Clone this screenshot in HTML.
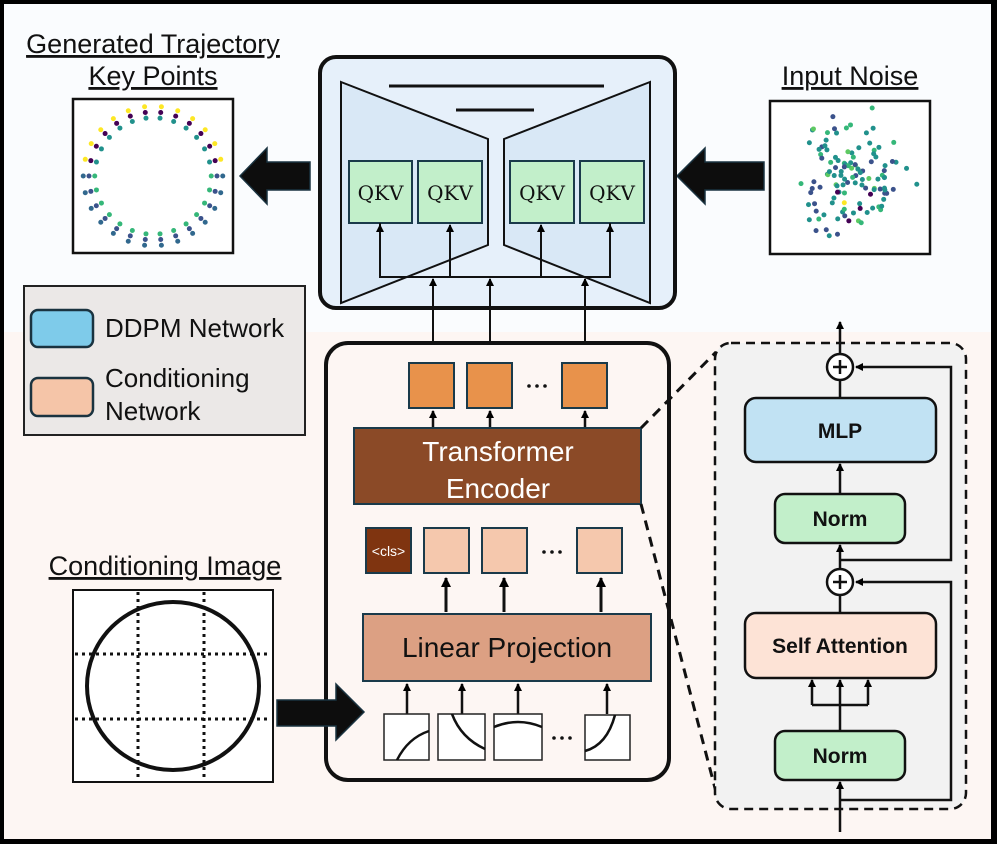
<!DOCTYPE html>
<html><head><meta charset="utf-8"><style>
html,body{margin:0;padding:0;background:#fff}
svg{display:block}
text{font-family:"Liberation Sans",sans-serif}
</style></head><body>
<svg id="s" width="997" height="844" viewBox="0 0 997 844" xmlns="http://www.w3.org/2000/svg">
<defs>
<marker id="ah" markerWidth="8" markerHeight="8" refX="7" refY="4" orient="auto" markerUnits="userSpaceOnUse" viewBox="0 0 8 8"><path d="M0,0 L8,4 L0,8 z" fill="#000"/></marker>
<marker id="ah2" markerWidth="10" markerHeight="10" refX="9" refY="5" orient="auto" markerUnits="userSpaceOnUse" viewBox="0 0 10 10"><path d="M0,0 L10,5 L0,10 z" fill="#000"/></marker>
</defs>
<rect x="0" y="0" width="997" height="844" fill="#000"/>
<rect x="4" y="4" width="987" height="328" fill="#fafcfe"/>
<rect x="4" y="332" width="987" height="507" fill="#fdf6f3"/>

<!-- titles -->
<g font-size="27" fill="#111" text-anchor="middle" text-decoration="underline">
<text x="153" y="53" text-decoration="underline">Generated Trajectory</text>
<text x="153" y="85" text-decoration="underline">Key Points</text>
<text x="850" y="85" text-decoration="underline">Input Noise</text>
<text x="165" y="575" text-decoration="underline">Conditioning Image</text>
</g>

<!-- generated box -->
<rect x="73" y="99" width="160" height="154" fill="#fff" stroke="#111" stroke-width="2.5"/>
<g id="ring"></g>
<!-- noise box -->
<rect x="770" y="101" width="160" height="153" fill="#fff" stroke="#111" stroke-width="2.5"/>
<g id="noise"></g>

<!-- big arrows -->
<path d="M310,162 L267,162 L267,148 L240,176 L267,204 L267,190 L310,190 z" fill="#0d0d0d" stroke="#1a3340" stroke-width="1.5"/>
<path d="M764,162 L705,162 L705,148 L677,176 L705,204 L705,190 L764,190 z" fill="#0d0d0d" stroke="#1a3340" stroke-width="1.5"/>

<!-- UNet -->
<rect x="320" y="57" width="355" height="251" rx="16" fill="#e6f0fa" stroke="#111" stroke-width="4"/>
<path d="M341,82 L488,139 L488,245 L341,303 z" fill="#d9e8f6" stroke="#111" stroke-width="2"/>
<path d="M650,82 L504,139 L504,245 L650,303 z" fill="#d9e8f6" stroke="#111" stroke-width="2"/>
<line x1="389" y1="86" x2="604" y2="86" stroke="#111" stroke-width="3"/>
<line x1="456" y1="110" x2="534" y2="110" stroke="#111" stroke-width="3"/>
<g fill="#c2efca" stroke="#1a3a4a" stroke-width="2">
<rect x="349" y="161" width="63" height="62"/>
<rect x="418" y="161" width="64" height="62"/>
<rect x="510" y="161" width="64" height="62"/>
<rect x="580" y="161" width="64" height="62"/>
</g>
<g font-size="20" fill="#111" text-anchor="middle">
<text x="380.5" y="200" style="font-family:'DejaVu Serif',serif">QKV</text>
<text x="450" y="200" style="font-family:'DejaVu Serif',serif">QKV</text>
<text x="542" y="200" style="font-family:'DejaVu Serif',serif">QKV</text>
<text x="612" y="200" style="font-family:'DejaVu Serif',serif">QKV</text>
</g>
<g stroke="#111" stroke-width="2" fill="none">
<polyline points="380,223 380,277 610,277 610,223"/>
<line x1="450" y1="277" x2="450" y2="225" marker-end="url(#ah)"/>
<line x1="541" y1="277" x2="541" y2="225" marker-end="url(#ah)"/>
<line x1="380" y1="277" x2="380" y2="225" marker-end="url(#ah)"/>
<line x1="610" y1="277" x2="610" y2="225" marker-end="url(#ah)"/>
<line x1="433" y1="363" x2="433" y2="279" marker-end="url(#ah)"/>
<line x1="490" y1="363" x2="490" y2="279" marker-end="url(#ah)"/>
<line x1="585" y1="363" x2="585" y2="279" marker-end="url(#ah)"/>
</g>

<!-- legend -->
<rect x="24" y="286" width="281" height="149" fill="#ebe8e7" stroke="#222" stroke-width="2"/>
<rect x="31" y="310" width="62" height="37" rx="7" fill="#7ecbea" stroke="#1a3340" stroke-width="2.5"/>
<rect x="31" y="378" width="62" height="38" rx="7" fill="#f5c5a8" stroke="#1a3340" stroke-width="2.5"/>
<g font-size="26" fill="#111">
<text x="105" y="337">DDPM Network</text>
<text x="105" y="387">Conditioning</text>
<text x="105" y="420">Network</text>
</g>

<!-- conditioning network -->
<rect x="326" y="343" width="343" height="437" rx="22" fill="#fdf6f3" stroke="#111" stroke-width="4"/>
<path d="M277,700 L336,700 L336,684 L364,712 L336,740 L336,726 L277,726 z" fill="#0d0d0d" stroke="#1a3340" stroke-width="1.5"/>
<g fill="#e8924b" stroke="#1a3a4a" stroke-width="2">
<rect x="409" y="363" width="45" height="45"/>
<rect x="467" y="363" width="45" height="45"/>
<rect x="562" y="363" width="45" height="45"/>
</g>
<g fill="#111">
<circle cx="529" cy="386" r="1.8"/><circle cx="537" cy="386" r="1.8"/><circle cx="545" cy="386" r="1.8"/>
<circle cx="544" cy="552" r="1.8"/><circle cx="552" cy="552" r="1.8"/><circle cx="560" cy="552" r="1.8"/>
<circle cx="554" cy="738" r="1.8"/><circle cx="562" cy="738" r="1.8"/><circle cx="570" cy="738" r="1.8"/>
</g>
<g stroke="#111" stroke-width="2.5">
<line x1="433" y1="428" x2="433" y2="411" marker-end="url(#ah)"/>
<line x1="490" y1="428" x2="490" y2="411" marker-end="url(#ah)"/>
<line x1="585" y1="428" x2="585" y2="411" marker-end="url(#ah)"/>
</g>
<rect x="354" y="428" width="287" height="76" fill="#8b4a27" stroke="#1a3a4a" stroke-width="2"/>
<text x="498" y="461" font-size="28" fill="#fff" text-anchor="middle">Transformer</text>
<text x="498" y="498" font-size="28" fill="#fff" text-anchor="middle">Encoder</text>
<rect x="366" y="528" width="45" height="45" fill="#7f3410" stroke="#1a3a4a" stroke-width="2"/>
<text x="388.5" y="556" font-size="14" fill="#fff" text-anchor="middle">&lt;cls&gt;</text>
<g fill="#f5c8ad" stroke="#1a3a4a" stroke-width="2">
<rect x="424" y="528" width="45" height="45"/>
<rect x="482" y="528" width="45" height="45"/>
<rect x="577" y="528" width="45" height="45"/>
</g>
<g stroke="#111" stroke-width="3">
<line x1="446" y1="612" x2="446" y2="578" marker-end="url(#ah2)"/>
<line x1="504" y1="612" x2="504" y2="578" marker-end="url(#ah2)"/>
<line x1="601" y1="612" x2="601" y2="578" marker-end="url(#ah2)"/>
</g>
<rect x="363" y="614" width="288" height="67" fill="#dca083" stroke="#1a3a4a" stroke-width="2"/>
<text x="507" y="657" font-size="28" fill="#111" text-anchor="middle">Linear Projection</text>
<g stroke="#111" stroke-width="2.5">
<line x1="407" y1="714" x2="407" y2="684" marker-end="url(#ah)"/>
<line x1="462" y1="714" x2="462" y2="684" marker-end="url(#ah)"/>
<line x1="518" y1="714" x2="518" y2="684" marker-end="url(#ah)"/>
<line x1="607" y1="714" x2="607" y2="684" marker-end="url(#ah)"/>
</g>
<g fill="#fff" stroke="#222" stroke-width="1.5">
<rect x="384" y="714" width="45" height="46"/>
<rect x="438" y="714" width="47" height="46"/>
<rect x="494" y="714" width="48" height="46"/>
<rect x="585" y="715" width="45" height="45"/>
</g>
<g fill="none" stroke="#111" stroke-width="2.5">
<path d="M397,760 Q408,738 429,731"/>
<path d="M452,714 Q461,738 485,749"/>
<path d="M494,727 Q518,717 542,727"/>
<path d="M585,751 Q607,745 615,715"/>
</g>

<!-- conditioning image -->
<rect x="73" y="590" width="200" height="192" fill="#fff" stroke="#111" stroke-width="2"/>
<g stroke="#111" stroke-width="3" stroke-dasharray="3,4">
<line x1="138" y1="592" x2="138" y2="780"/>
<line x1="204" y1="592" x2="204" y2="780"/>
<line x1="75" y1="654" x2="271" y2="654"/>
<line x1="75" y1="719" x2="271" y2="719"/>
</g>
<ellipse cx="173" cy="686" rx="86" ry="84" fill="none" stroke="#111" stroke-width="4"/>

<!-- dashed zoom -->
<g stroke="#111" stroke-width="3" stroke-dasharray="10,7" fill="none">
<line x1="641" y1="428" x2="716" y2="352"/>
<line x1="641" y1="504" x2="716" y2="792"/>
</g>
<rect x="715" y="343" width="251" height="466" rx="16" fill="#f2f2f2" stroke="#111" stroke-width="2.5" stroke-dasharray="9,6"/>

<!-- transformer block -->
<g stroke="#111" stroke-width="2.5" fill="none">
<line x1="840" y1="354" x2="840" y2="322" marker-end="url(#ah)"/>
<line x1="840" y1="398" x2="840" y2="380"/>
<line x1="840" y1="494" x2="840" y2="464" marker-end="url(#ah)"/>
<line x1="840" y1="569" x2="840" y2="545" marker-end="url(#ah)"/>
<line x1="840" y1="613" x2="840" y2="595"/>
<polyline points="840,560 951,560 951,367 856,367" marker-end="url(#ah)"/>
<polyline points="840,800 951,800 951,582 856,582" marker-end="url(#ah)"/>
<line x1="840" y1="832" x2="840" y2="782" marker-end="url(#ah)"/>
<line x1="840" y1="731" x2="840" y2="680" marker-end="url(#ah)"/>
<polyline points="812,705 812,680" marker-end="url(#ah)"/>
<polyline points="868,705 868,680" marker-end="url(#ah)"/>
<line x1="812" y1="705" x2="868" y2="705"/>
</g>
<g fill="#fff" stroke="#111" stroke-width="2.5">
<circle cx="840" cy="367" r="13"/>
<circle cx="840" cy="582" r="13"/>
</g>
<g stroke="#111" stroke-width="2.5">
<line x1="833" y1="367" x2="847" y2="367"/><line x1="840" y1="360" x2="840" y2="374"/>
<line x1="833" y1="582" x2="847" y2="582"/><line x1="840" y1="575" x2="840" y2="589"/>
</g>
<rect x="745" y="398" width="191" height="64" rx="11" fill="#c1e2f3" stroke="#111" stroke-width="2.5"/>
<rect x="775" y="494" width="130" height="49" rx="10" fill="#c2efca" stroke="#111" stroke-width="2.5"/>
<rect x="745" y="613" width="191" height="65" rx="11" fill="#fde3d6" stroke="#111" stroke-width="2.5"/>
<rect x="775" y="731" width="130" height="49" rx="10" fill="#c2efca" stroke="#111" stroke-width="2.5"/>
<g font-size="21" font-weight="bold" fill="#111" text-anchor="middle">
<text x="840" y="438">MLP</text>
<text x="840" y="526">Norm</text>
<text x="840" y="653">Self Attention</text>
<text x="840" y="763">Norm</text>
</g>
</svg>
<script>
(function(){
var NS="http://www.w3.org/2000/svg";
function dot(g,x,y,c){var e=document.createElementNS(NS,"circle");e.setAttribute("cx",x);e.setAttribute("cy",y);e.setAttribute("r",2.5);e.setAttribute("fill",c);g.appendChild(e);}
var ring=document.getElementById("ring");
var N=26;
for(var i=0;i<N;i++){
 var a=i/N*2*Math.PI;
 var cx=153,cy=176;
 var dx=Math.cos(a),dy=Math.sin(a);
 var rx=64,ry=64;
 var cols=dy<0?["#21918c","#440154","#fde725"]:["#35b779","#3b528b","#31688e"];
 for(var k=-1;k<=1;k++){
  var r=1+k*0.09;
  dot(ring,cx+dx*rx*r,cy+dy*ry*r,cols[k+1]);
 }
}
var noise=document.getElementById("noise");
var s=12345;function rnd(){s=(s*16807)%2147483647;return s/2147483647;}
function g(){return (rnd()+rnd()+rnd()-1.5)/1.5;}
for(var j=0;j<120;j++){
 var x=852+g()*80,y=180+g()*80;
 x=Math.max(776,Math.min(924,x));y=Math.max(108,Math.min(250,y));
 var r2=rnd();var c=r2<0.55?"#21918c":r2<0.75?"#3b528b":r2<0.88?"#35b779":r2<0.94?"#5ec962":r2<0.97?"#440154":"#fde725";
 dot(noise,x,y,c);
}
})();
</script>
</body></html>
